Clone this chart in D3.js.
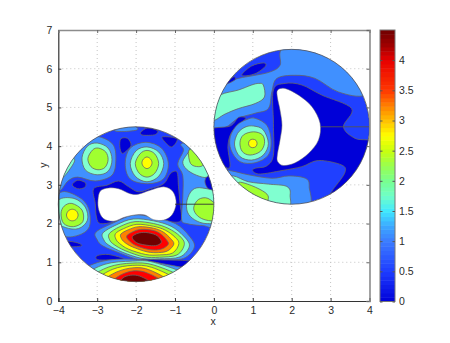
<!DOCTYPE html>
<html><head><meta charset="utf-8">
<script src="https://cdn.jsdelivr.net/npm/d3@7/dist/d3.min.js"></script>
<style>html,body{margin:0;background:#fff}svg{display:block}text{font-family:"Liberation Sans",Arial,sans-serif;fill:#2a2a2a;font-size:10.5px}</style>
</head><body><svg id="c" width="450" height="343"></svg>
<script>
const xTicks=[-4,-3,-2,-1,0,1,2,3,4];
const yTicks=[0,1,2,3,4,5,6,7];
const cbTicks=[0,0.5,1,1.5,2,2.5,3,3.5,4];
const cbTickLabels=["0","0.5","1","1.5","2","2.5","3","3.5","4"];
const colorStops=[0,0.5,1,1.25,1.5,1.75,2,2.25,2.5,2.75,3,3.25,3.5,4,4.25,4.5];
const colorValues=["#0000d8","#1e3cff","#3c7cff","#3ca8ff","#40e8ff","#70ffc8","#78ff90","#98ff50","#c8ff10","#ffff00","#ffc000","#ff8000","#ff3800","#e80000","#a00000","#700000"];
const bandColors=["#0000d8","#2040ff","#4090ff","#80ffd0","#a0ff30","#ffff00","#ff8000","#ff0000","#700000"];
const discCenters=[[-2,2.5],[2,4.5]];
const discRadius=2;
const cuts=[[[-1,2.5],[0,2.5]],[[2.75,4.5],[4,4.5]]];
const holes=[
[[-2.98,2.60],[-2.92,2.84],[-2.71,2.92],[-2.45,2.90],[-2.15,2.77],[-1.94,2.76],[-1.64,2.86],[-1.29,2.95],[-1.05,2.82],[-0.97,2.52],[-1.08,2.22],[-1.29,2.09],[-1.55,2.10],[-1.77,2.22],[-1.98,2.23],[-2.28,2.17],[-2.58,2.06],[-2.84,2.13],[-2.96,2.35]],
[[1.64,5.45],[1.83,5.49],[2.17,5.32],[2.52,5.02],[2.73,4.59],[2.69,4.16],[2.43,3.81],[2.09,3.57],[1.79,3.50],[1.64,3.60],[1.63,3.77],[1.70,4.16],[1.75,4.54],[1.70,4.93],[1.63,5.27]]
];
const disc1Regions=[
[0,[[-3.05,2.52],[-3.09,2.90],[-2.75,2.99],[-2.45,3.10],[-2.19,2.95],[-1.94,2.82],[-1.64,2.90],[-1.29,3.03],[-1.12,3.29],[-0.95,3.33],[-0.91,2.95],[-0.87,2.52],[-0.84,2.09],[-1.08,2.04],[-1.29,2.09],[-1.64,2.17],[-1.98,2.23],[-2.32,2.13],[-2.58,2.04],[-2.92,2.0],[-3.02,2.17]]],
[0,[[-3.64,3.0],[-3.5,3.12],[-3.3,3.05],[-3.33,2.93],[-3.5,2.9]]],
[0,[[-2.39,4.19],[-2.22,4.2],[-2.13,4.02],[-2.27,3.86],[-2.37,3.82],[-2.42,4.0]]],
[0,[[-1.88,4.36],[-1.7,4.47],[-1.45,4.4],[-1.5,4.3],[-1.68,4.28],[-1.85,4.29]]],
[0,[[-1.32,4.24],[-0.95,4.19],[-1.08,3.98],[-1.25,4.1]]],
[0,[[-3.78,1.54],[-3.5,1.5],[-3.4,1.43],[-3.6,1.4],[-3.9,1.42]]],
[0,[[-3.0,1.17],[-2.7,1.2],[-2.3,1.08],[-2.7,1.06],[-3.0,1.07]]],
[2,[[-3.7,4.0],[-3.45,4.15],[-3.0,4.25],[-2.6,4.05],[-2.52,3.65],[-2.62,3.25],[-3.05,3.1],[-3.5,3.2],[-3.75,3.1],[-3.98,2.85],[-4.2,3.2]]],
[3,[[-3.95,3.15],[-3.78,3.3],[-3.58,3.62],[-3.7,3.7],[-4.0,3.4]]],
[3,[[-3.39,3.7],[-3.25,4.0],[-3.0,4.08],[-2.72,3.95],[-2.62,3.65],[-2.72,3.35],[-3.0,3.26],[-3.3,3.38]]],
[4,[[-3.24,3.68],[-3.12,3.9],[-2.97,3.95],[-2.78,3.85],[-2.72,3.65],[-2.8,3.45],[-2.98,3.39],[-3.16,3.47]]],
[2,[[-2.28,3.55],[-2.15,3.95],[-1.75,4.1],[-1.35,3.95],[-1.17,3.55],[-1.3,3.15],[-1.7,3.03],[-2.15,3.15]]],
[3,[[-2.15,3.55],[-2.0,3.88],[-1.72,3.98],[-1.42,3.85],[-1.29,3.55],[-1.42,3.22],[-1.72,3.08],[-2.02,3.22]]],
[4,[[-2.02,3.55],[-1.9,3.8],[-1.72,3.89],[-1.52,3.8],[-1.42,3.55],[-1.52,3.3],[-1.72,3.2],[-1.92,3.3]]],
[5,[[-1.85,3.57],[-1.81,3.67],[-1.72,3.72],[-1.63,3.67],[-1.59,3.57],[-1.63,3.47],[-1.72,3.42],[-1.81,3.47]]],
[2,[[-0.85,4.05],[-0.6,4.1],[-0.3,3.9],[0.1,3.3],[0.1,2.0],[-0.3,1.95],[-0.7,2.0],[-0.83,2.1],[-0.8,2.67],[-0.8,3.24],[-0.93,3.54],[-0.78,3.89]]],
[0,[[-0.23,3.1],[-0.1,3.3],[0.05,3.0],[-0.02,2.85],[-0.15,2.9]]],
[3,[[-0.65,3.85],[-0.55,4.02],[-0.3,3.9],[-0.12,3.45],[-0.18,3.2],[-0.45,3.25],[-0.7,3.4],[-0.8,3.6]]],
[4,[[-0.65,3.87],[-0.5,3.9],[-0.28,3.55],[-0.4,3.47],[-0.6,3.55]]],
[3,[[-0.69,2.6],[-0.55,2.87],[-0.3,2.92],[0.1,2.75],[0.1,2.1],[-0.2,2.0],[-0.5,2.1],[-0.68,2.3]]],
[4,[[-0.52,2.4],[-0.4,2.62],[-0.15,2.65],[0.1,2.4],[0.05,2.1],[-0.2,2.09],[-0.42,2.2]]],
[2,[[-3.95,2.8],[-3.48,2.69],[-3.22,2.39],[-3.2,1.92],[-3.48,1.7],[-3.9,1.7],[-4.2,2.2]]],
[3,[[-4.0,2.6],[-3.6,2.65],[-3.31,2.43],[-3.25,2.09],[-3.48,1.87],[-3.82,1.9],[-4.1,2.1]]],
[4,[[-3.65,2.52],[-3.39,2.35],[-3.37,2.05],[-3.61,1.92],[-3.86,2.0],[-3.93,2.26],[-3.85,2.45]]],
[5,[[-3.79,2.22],[-3.74,2.33],[-3.64,2.37],[-3.54,2.33],[-3.49,2.22],[-3.54,2.11],[-3.64,2.07],[-3.74,2.11]]],
[2,[[-2.25,4.38],[-1.95,4.44],[-2.2,4.6],[-2.5,4.55],[-2.55,4.4]]],
[2,[[-3.03,1.78],[-2.58,2.02],[-2.07,2.22],[-1.55,2.16],[-0.99,2.0],[-0.65,1.70],[-0.50,1.40],[-0.78,1.10],[-1.38,1.06],[-1.89,1.06],[-2.4,1.23],[-2.85,1.42],[-3.0,1.58]]],
[3,[[-2.85,1.76],[-2.5,1.97],[-2.07,2.12],[-1.55,2.07],[-1.1,1.93],[-0.78,1.68],[-0.63,1.42],[-0.87,1.14],[-1.4,1.09],[-1.85,1.1],[-2.35,1.26],[-2.7,1.44],[-2.83,1.58]]],
[4,[[-2.69,1.74],[-2.42,1.92],[-2.03,2.05],[-1.55,2.0],[-1.18,1.88],[-0.88,1.68],[-0.76,1.46],[-0.95,1.19],[-1.4,1.13],[-1.8,1.14],[-2.28,1.3],[-2.57,1.46],[-2.68,1.58]]],
[5,[[-2.53,1.74],[-2.32,1.87],[-1.98,1.98],[-1.55,1.93],[-1.25,1.83],[-1.0,1.65],[-0.9,1.48],[-1.06,1.24],[-1.4,1.19],[-1.75,1.2],[-2.2,1.34],[-2.43,1.49],[-2.52,1.6]]],
[6,[[-2.39,1.73],[-2.2,1.84],[-1.93,1.92],[-1.55,1.88],[-1.3,1.78],[-1.12,1.62],[-1.03,1.47],[-1.18,1.3],[-1.42,1.25],[-1.72,1.27],[-2.1,1.4],[-2.3,1.52],[-2.38,1.62]]],
[7,[[-2.24,1.68],[-2.08,1.79],[-1.87,1.85],[-1.55,1.82],[-1.35,1.72],[-1.22,1.58],[-1.17,1.47],[-1.3,1.36],[-1.48,1.32],[-1.72,1.34],[-2.02,1.44],[-2.18,1.56]]],
[8,[[-2.09,1.67],[-1.95,1.75],[-1.75,1.77],[-1.5,1.71],[-1.38,1.6],[-1.36,1.5],[-1.5,1.43],[-1.72,1.44],[-1.95,1.49],[-2.07,1.58]]],
[0,[[-1.88,1.07],[-1.3,1.06],[-0.85,1.05],[-0.6,1.02],[-0.75,0.9],[-1.0,0.88],[-1.4,0.95]]],
[2,[[-3.5,0.7],[-2.9,1.02],[-2.1,1.08],[-1.4,0.98],[-0.6,0.75],[-1.2,0.3],[-2,0.2],[-2.9,0.4]]],
[3,[[-3.3,0.65],[-2.8,0.95],[-2.1,1.03],[-1.55,1.0],[-0.7,0.65],[-1.2,0.3],[-2,0.2],[-2.9,0.4]]],
[4,[[-3.15,0.6],[-2.7,0.88],[-2.1,0.98],[-1.55,0.93],[-0.85,0.6],[-1.3,0.3],[-2,0.2],[-2.8,0.4]]],
[5,[[-3.0,0.55],[-2.6,0.82],[-2.1,0.92],[-1.6,0.87],[-1.0,0.55],[-1.4,0.3],[-2,0.2],[-2.7,0.35]]],
[6,[[-2.85,0.5],[-2.5,0.75],[-2.05,0.86],[-1.65,0.8],[-1.15,0.5],[-1.5,0.3],[-2,0.25],[-2.6,0.3]]],
[7,[[-2.65,0.45],[-2.4,0.67],[-2.05,0.78],[-1.7,0.72],[-1.35,0.5],[-1.6,0.3],[-2,0.25],[-2.4,0.3]]],
[8,[[-2.4,0.5],[-2.3,0.62],[-2.08,0.67],[-1.85,0.62],[-1.6,0.45],[-1.85,0.35],[-2.08,0.33],[-2.3,0.38]]]
];
const disc2Regions=[
[2,[[1.83,6.56],[1.70,6.09],[1.45,5.92],[1.06,5.83],[0.63,5.75],[0.29,5.62],[0.16,5.40],[-0.10,5.02],[-0.10,4.42],[0.29,4.48],[0.63,4.72],[1.06,4.85],[1.40,4.97],[1.49,5.40],[1.62,5.75],[2.09,5.83],[2.60,5.75],[3.20,5.40],[3.89,5.32],[4.14,5.88],[3.2,6.65]]],
[3,[[1.15,5.62],[1.27,5.58],[1.30,5.27],[1.06,5.10],[0.63,4.97],[0.29,4.83],[-0.05,4.66],[-0.1,5.02],[0.16,5.32],[0.63,5.45],[0.97,5.58]]],
[0,[[0.72,5.85],[0.97,6.07],[1.27,6.15],[1.33,6.07],[1.10,5.89],[0.85,5.82]]],
[0,[[0.29,5.62],[0.5,5.79],[0.55,5.72],[0.37,5.62]]],
[0,[[1.53,5.45],[1.83,5.62],[2.26,5.58],[2.77,5.32],[3.54,4.97],[3.33,4.50],[3.63,4.20],[4.14,4.07],[3.97,3.30],[3.03,2.7],[3.03,2.83],[3.36,3.30],[3.29,3.51],[2.69,3.63],[2.26,3.47],[1.75,3.37],[1.19,3.28],[1.0,3.36],[1.06,3.43],[1.36,3.49],[1.53,3.77],[1.53,4.59]]],
[0,[[0.82,4.72],[0.63,4.74],[0.42,4.52],[-0.14,4.40],[-0.10,3.81],[0.39,3.43],[0.36,3.99],[0.44,4.33],[0.63,4.54]]],
[2,[[1.06,4.72],[1.36,4.54],[1.47,4.16],[1.40,3.77],[1.06,3.57],[0.67,3.6],[0.44,3.9],[0.42,4.24],[0.59,4.54],[0.85,4.69]]],
[3,[[1.02,4.52],[1.27,4.42],[1.40,4.07],[1.27,3.77],[0.97,3.64],[0.67,3.73],[0.53,4.03],[0.61,4.33],[0.80,4.49]]],
[4,[[1.02,4.37],[1.25,4.29],[1.30,4.07],[1.19,3.86],[0.93,3.77],[0.73,3.86],[0.67,4.09],[0.76,4.29]]],
[5,[[0.89,4.07],[0.92,4.15],[1.0,4.18],[1.08,4.15],[1.11,4.07],[1.08,3.99],[1.0,3.96],[0.92,3.99]]],
[2,[[0.29,3.34],[0.46,3.36],[0.89,3.26],[1.49,3.17],[1.92,3.23],[2.35,3.17],[2.45,2.96],[2.33,2.35],[0.63,2.35],[0.1,3.0]]],
[3,[[0.50,3.23],[0.89,3.08],[1.40,3.02],[1.87,2.96],[1.96,2.74],[1.79,2.35],[0.29,2.7],[0.29,3.13]]],
[4,[[0.63,3.06],[0.97,2.98],[1.32,2.80],[1.40,2.65],[1.27,2.53],[0.72,2.78]]]
];
const W=450,H=343,L=58.3,R=369.5,T=30,B=301;
const x=d3.scaleLinear().domain([-4,4]).range([L,R]);
const y=d3.scaleLinear().domain([0,7]).range([B,T]);
const svg=d3.select("#c");
svg.append("rect").attr("width",W).attr("height",H).attr("fill","#fff");
const grid=svg.append("g").attr("stroke","#c4c4c4").attr("stroke-dasharray","1,3");
xTicks.slice(1,-1).forEach(v=>grid.append("line").attr("x1",x(v)).attr("x2",x(v)).attr("y1",T).attr("y2",B));
yTicks.slice(1,-1).forEach(v=>grid.append("line").attr("y1",y(v)).attr("y2",y(v)).attr("x1",L).attr("x2",R));
const blob=d3.line().x(d=>x(d[0])).y(d=>y(d[1])).curve(d3.curveCatmullRomClosed.alpha(0));
const rx=x(discRadius)-x(0),ry=y(0)-y(discRadius);
const defs=svg.append("defs");
[disc1Regions,disc2Regions].forEach((regions,i)=>{
  const c=discCenters[i];
  defs.append("clipPath").attr("id","d"+i).append("ellipse").attr("cx",x(c[0])).attr("cy",y(c[1])).attr("rx",rx).attr("ry",ry);
  const g=svg.append("g").attr("clip-path",`url(#d${i})`);
  g.append("ellipse").attr("cx",x(c[0])).attr("cy",y(c[1])).attr("rx",rx).attr("ry",ry).attr("fill",bandColors[1]);
  regions.forEach(([b,p])=>g.append("path").attr("d",blob(p)).attr("fill",bandColors[b]).attr("stroke","#666").attr("stroke-width",0.8));
  g.append("path").attr("d",blob(holes[i])).attr("fill","#fff").attr("stroke","#666").attr("stroke-width",0.5);
  g.append("line").attr("x1",x(cuts[i][0][0])).attr("x2",x(cuts[i][1][0])).attr("y1",y(cuts[i][0][1])).attr("y2",y(cuts[i][1][1])).attr("stroke",i?"#555":"#333").attr("stroke-width",0.9);
  svg.append("ellipse").attr("cx",x(c[0])).attr("cy",y(c[1])).attr("rx",rx).attr("ry",ry).attr("fill","none").attr("stroke","#555").attr("stroke-width",0.8);
});
const fmt=v=>String(v).replace("-","\u2212");
const axB=svg.append("g").attr("transform",`translate(0,${B})`).call(d3.axisBottom(x).tickValues(xTicks).tickFormat(fmt).tickSize(-3).tickPadding(6));
const axL=svg.append("g").attr("transform",`translate(${L},0)`).call(d3.axisLeft(y).tickValues(yTicks).tickFormat(fmt).tickSize(-3).tickPadding(6));
const axT=svg.append("g").attr("transform",`translate(0,${T})`).call(d3.axisTop(x).tickValues(xTicks).tickFormat("").tickSize(-3));
const axR=svg.append("g").attr("transform",`translate(${R},0)`).call(d3.axisRight(y).tickValues(yTicks).tickFormat("").tickSize(-3));
[axB,axL].forEach(a=>{a.select(".domain").attr("stroke","#333").attr("stroke-width",1.2);a.selectAll("line").attr("stroke","#444");});
[axT,axR].forEach(a=>{a.select(".domain").attr("stroke","#8c8c8c").attr("stroke-width",1.6);a.selectAll("line").attr("stroke","#666");});
svg.append("text").attr("x",213).attr("y",325).attr("text-anchor","middle").text("x");
svg.append("text").attr("transform","translate(47,165) rotate(-90)").attr("text-anchor","middle").text("y");
const cbX0=380,cbX1=395;
const cy=d3.scaleLinear().domain([0,4.5]).range([301.5,30]);
const color=d3.scaleLinear().domain(colorStops).range(colorValues);
const cbEdges=d3.range(0,64);
svg.append("g").selectAll("rect").data(cbEdges).join("rect")
 .attr("x",cbX0).attr("width",cbX1-cbX0)
 .attr("y",d=>cy((d+1)*4.5/64)).attr("height",d=>cy(d*4.5/64)-cy((d+1)*4.5/64)+0.5)
 .attr("fill",d=>color((d+0.5)*4.5/64));
svg.append("rect").attr("x",cbX0).attr("y",30).attr("width",cbX1-cbX0).attr("height",271.5).attr("fill","none").attr("stroke","#777").attr("stroke-width",1);
const cbAx=svg.append("g").attr("transform",`translate(${cbX1},0)`).call(d3.axisRight(cy).tickValues(cbTicks).tickFormat((d,i)=>cbTickLabels[i]).tickSize(-2.5).tickPadding(4));
cbAx.select(".domain").remove();cbAx.selectAll("line").attr("stroke","#555");
const cbAxL=svg.append("g").attr("transform",`translate(${cbX0},0)`).call(d3.axisLeft(cy).tickValues(cbTicks).tickFormat("").tickSize(-2.5));
cbAxL.select(".domain").remove();cbAxL.selectAll("line").attr("stroke","#555");
</script></body></html>
